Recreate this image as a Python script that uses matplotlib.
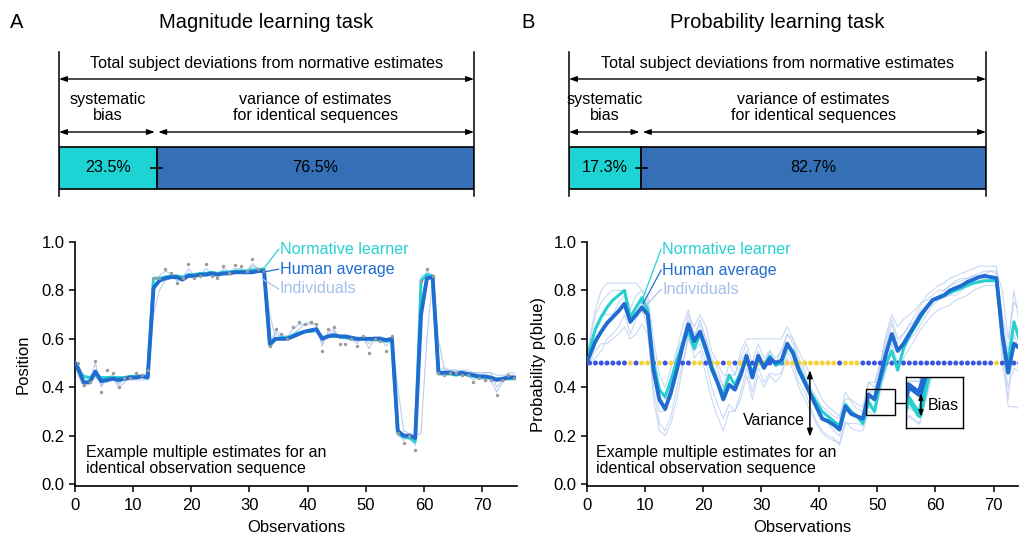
import numpy as np
import matplotlib
matplotlib.use("Agg")
import matplotlib.pyplot as plt
from matplotlib.patches import Rectangle

plt.rcParams['font.family'] = ['Liberation Sans', 'DejaVu Sans']

# ---------------- data ----------------
# top bars (percent of total deviation)
mag_bias_pct, mag_var_pct = 23.5, 76.5
prob_bias_pct, prob_var_pct = 17.3, 82.7

# Magnitude task: estimates (prior at 0, then after each observation at k+0.5)
mag_human = [0.50,
    0.48, 0.42, 0.42, 0.465, 0.425, 0.43, 0.435, 0.43, 0.435, 0.44,
    0.44, 0.445, 0.44, 0.81, 0.84, 0.85, 0.855, 0.855, 0.845, 0.86,
    0.86, 0.865, 0.865, 0.87, 0.865, 0.87, 0.87, 0.875, 0.875, 0.875,
    0.875, 0.88, 0.88, 0.58, 0.60, 0.60, 0.60, 0.61, 0.62, 0.63,
    0.635, 0.64, 0.60, 0.61, 0.615, 0.61, 0.61, 0.605, 0.60, 0.60,
    0.60, 0.60, 0.60, 0.595, 0.60, 0.22, 0.20, 0.20, 0.19, 0.70,
    0.85, 0.855, 0.46, 0.46, 0.46, 0.455, 0.46, 0.455, 0.45, 0.445,
    0.445, 0.44, 0.43, 0.435, 0.44, 0.44]
mag_normative = [0.50,
    0.47, 0.445, 0.44, 0.45, 0.44, 0.44, 0.44, 0.44, 0.44, 0.445,
    0.445, 0.445, 0.445, 0.85, 0.85, 0.855, 0.86, 0.86, 0.855, 0.865,
    0.865, 0.87, 0.87, 0.875, 0.87, 0.875, 0.875, 0.88, 0.88, 0.88,
    0.885, 0.885, 0.89, 0.57, 0.60, 0.605, 0.605, 0.615, 0.625, 0.63,
    0.63, 0.635, 0.605, 0.61, 0.61, 0.61, 0.605, 0.60, 0.60, 0.60,
    0.60, 0.595, 0.595, 0.59, 0.595, 0.21, 0.195, 0.19, 0.175, 0.84,
    0.865, 0.86, 0.455, 0.455, 0.455, 0.45, 0.455, 0.45, 0.445, 0.44,
    0.44, 0.44, 0.435, 0.435, 0.435, 0.435]
mag_ind_1 = [0.50,
    0.46, 0.41, 0.43, 0.50, 0.40, 0.44, 0.45, 0.41, 0.44, 0.44,
    0.45, 0.45, 0.46, 0.84, 0.86, 0.88, 0.87, 0.84, 0.85, 0.89,
    0.86, 0.86, 0.89, 0.87, 0.86, 0.89, 0.88, 0.89, 0.89, 0.88,
    0.91, 0.89, 0.88, 0.58, 0.63, 0.62, 0.61, 0.64, 0.66, 0.66,
    0.66, 0.66, 0.57, 0.63, 0.64, 0.60, 0.60, 0.60, 0.58, 0.61,
    0.56, 0.60, 0.60, 0.57, 0.60, 0.21, 0.18, 0.20, 0.16, 0.82,
    0.88, 0.86, 0.46, 0.45, 0.46, 0.46, 0.45, 0.45, 0.43, 0.44,
    0.43, 0.43, 0.38, 0.42, 0.44, 0.44]
mag_ind_2 = [0.50,
    0.49, 0.45, 0.42, 0.44, 0.42, 0.42, 0.43, 0.42, 0.43, 0.43,
    0.43, 0.43, 0.43, 0.70, 0.80, 0.84, 0.85, 0.85, 0.85, 0.86,
    0.86, 0.86, 0.87, 0.87, 0.86, 0.87, 0.87, 0.87, 0.87, 0.87,
    0.88, 0.88, 0.88, 0.70, 0.60, 0.60, 0.60, 0.61, 0.62, 0.63,
    0.63, 0.64, 0.61, 0.61, 0.62, 0.61, 0.61, 0.61, 0.60, 0.61,
    0.60, 0.60, 0.60, 0.60, 0.60, 0.40, 0.22, 0.21, 0.20, 0.21,
    0.60, 0.85, 0.60, 0.47, 0.47, 0.47, 0.46, 0.46, 0.46, 0.46,
    0.46, 0.46, 0.45, 0.45, 0.45, 0.45]
mag_ind_3 = [0.50,
    0.45, 0.40, 0.44, 0.46, 0.41, 0.43, 0.44, 0.40, 0.42, 0.44,
    0.45, 0.44, 0.45, 0.82, 0.84, 0.86, 0.86, 0.84, 0.84, 0.87,
    0.86, 0.86, 0.87, 0.86, 0.86, 0.88, 0.87, 0.88, 0.88, 0.88,
    0.90, 0.89, 0.89, 0.58, 0.62, 0.61, 0.60, 0.62, 0.64, 0.66,
    0.67, 0.66, 0.58, 0.62, 0.63, 0.61, 0.61, 0.60, 0.59, 0.61,
    0.58, 0.61, 0.61, 0.59, 0.60, 0.20, 0.19, 0.19, 0.17, 0.86,
    0.87, 0.86, 0.47, 0.48, 0.47, 0.47, 0.47, 0.47, 0.46, 0.46,
    0.46, 0.46, 0.40, 0.43, 0.46, 0.46]
# observed positions (grey dots), one per observation
mag_obs = [
    0.50, 0.41, 0.42, 0.51, 0.38, 0.47, 0.46, 0.40, 0.44, 0.44,
    0.46, 0.45, 0.47, 0.85, 0.85, 0.89, 0.87, 0.83, 0.85, 0.91,
    0.85, 0.86, 0.91, 0.86, 0.85, 0.90, 0.87, 0.905, 0.90, 0.88,
    0.93, 0.89, 0.88, 0.57, 0.64, 0.62, 0.60, 0.65, 0.67, 0.66,
    0.67, 0.66, 0.55, 0.64, 0.65, 0.58, 0.58, 0.60, 0.57, 0.61,
    0.54, 0.60, 0.59, 0.55, 0.61, 0.21, 0.17, 0.20, 0.14, 0.84,
    0.89, 0.86, 0.46, 0.45, 0.46, 0.46, 0.45, 0.45, 0.42, 0.44,
    0.43, 0.43, 0.37, 0.43, 0.45, 0.44]

# Probability task
prob_human = [0.50,
    0.53, 0.59, 0.63, 0.665, 0.69, 0.715, 0.745, 0.67, 0.70, 0.73,
    0.70, 0.47, 0.35, 0.31, 0.38, 0.47, 0.57, 0.66, 0.59, 0.63,
    0.56, 0.48, 0.42, 0.35, 0.41, 0.39, 0.45, 0.53, 0.44, 0.53,
    0.48, 0.52, 0.50, 0.51, 0.58, 0.54, 0.47, 0.42, 0.37, 0.32,
    0.27, 0.26, 0.245, 0.225, 0.32, 0.29, 0.28, 0.27, 0.37, 0.35,
    0.44, 0.54, 0.62, 0.55, 0.58, 0.62, 0.66, 0.70, 0.73, 0.76,
    0.77, 0.78, 0.80, 0.81, 0.82, 0.835, 0.845, 0.855, 0.86, 0.855,
    0.85, 0.62, 0.46, 0.58, 0.56]
prob_normative = [0.50,
    0.56, 0.64, 0.69, 0.73, 0.76, 0.78, 0.80, 0.69, 0.73, 0.77,
    0.72, 0.50, 0.39, 0.36, 0.43, 0.51, 0.58, 0.63, 0.56, 0.62,
    0.55, 0.47, 0.42, 0.37, 0.45, 0.41, 0.46, 0.52, 0.46, 0.52,
    0.49, 0.53, 0.49, 0.50, 0.57, 0.55, 0.48, 0.43, 0.38, 0.34,
    0.30, 0.28, 0.26, 0.24, 0.33, 0.30, 0.28, 0.25, 0.34, 0.30,
    0.42, 0.50, 0.55, 0.47, 0.56, 0.61, 0.65, 0.69, 0.73, 0.76,
    0.77, 0.78, 0.79, 0.80, 0.81, 0.82, 0.83, 0.835, 0.84, 0.84,
    0.84, 0.62, 0.50, 0.67, 0.59]
prob_ind_1 = [0.50,
    0.60, 0.72, 0.80, 0.83, 0.83, 0.83, 0.83, 0.83, 0.83, 0.80,
    0.75, 0.45, 0.30, 0.30, 0.40, 0.55, 0.65, 0.72, 0.60, 0.68,
    0.60, 0.50, 0.45, 0.40, 0.45, 0.40, 0.50, 0.55, 0.45, 0.55,
    0.50, 0.55, 0.50, 0.55, 0.62, 0.58, 0.50, 0.45, 0.38, 0.33,
    0.28, 0.25, 0.22, 0.20, 0.30, 0.30, 0.28, 0.28, 0.38, 0.38,
    0.48, 0.60, 0.68, 0.60, 0.62, 0.66, 0.70, 0.74, 0.78, 0.80,
    0.82, 0.83, 0.85, 0.86, 0.87, 0.88, 0.89, 0.90, 0.90, 0.90,
    0.90, 0.60, 0.32, 0.32, 0.31]
prob_ind_2 = [0.50,
    0.50, 0.55, 0.58, 0.58, 0.60, 0.62, 0.65, 0.60, 0.62, 0.66,
    0.62, 0.40, 0.25, 0.22, 0.28, 0.40, 0.50, 0.60, 0.55, 0.58,
    0.50, 0.40, 0.33, 0.27, 0.33, 0.30, 0.38, 0.48, 0.38, 0.48,
    0.42, 0.46, 0.45, 0.46, 0.52, 0.47, 0.40, 0.35, 0.30, 0.25,
    0.21, 0.19, 0.18, 0.17, 0.26, 0.23, 0.22, 0.22, 0.30, 0.28,
    0.38, 0.47, 0.55, 0.48, 0.52, 0.56, 0.60, 0.64, 0.67, 0.70,
    0.72, 0.73, 0.74, 0.76, 0.77, 0.78, 0.80, 0.81, 0.82, 0.82,
    0.82, 0.55, 0.40, 0.48, 0.46]
prob_ind_3 = [0.50,
    0.55, 0.65, 0.70, 0.70, 0.70, 0.75, 0.78, 0.70, 0.70, 0.75,
    0.70, 0.55, 0.40, 0.35, 0.35, 0.45, 0.60, 0.70, 0.65, 0.70,
    0.65, 0.55, 0.50, 0.45, 0.45, 0.45, 0.55, 0.60, 0.60, 0.60,
    0.60, 0.60, 0.60, 0.60, 0.65, 0.60, 0.55, 0.50, 0.45, 0.40,
    0.35, 0.32, 0.30, 0.28, 0.35, 0.35, 0.33, 0.32, 0.42, 0.42,
    0.50, 0.62, 0.70, 0.65, 0.68, 0.70, 0.72, 0.75, 0.76, 0.78,
    0.80, 0.80, 0.82, 0.84, 0.85, 0.85, 0.86, 0.87, 0.88, 0.88,
    0.88, 0.80, 0.60, 0.75, 0.72]
prob_ind_4 = [0.50,
    0.50, 0.52, 0.55, 0.60, 0.62, 0.65, 0.70, 0.62, 0.68, 0.72,
    0.65, 0.35, 0.22, 0.20, 0.25, 0.35, 0.48, 0.62, 0.52, 0.55,
    0.45, 0.35, 0.28, 0.22, 0.30, 0.30, 0.35, 0.45, 0.35, 0.45,
    0.40, 0.45, 0.42, 0.45, 0.55, 0.50, 0.42, 0.38, 0.32, 0.26,
    0.22, 0.20, 0.19, 0.16, 0.25, 0.25, 0.25, 0.24, 0.32, 0.30,
    0.40, 0.50, 0.58, 0.50, 0.55, 0.60, 0.62, 0.66, 0.70, 0.74,
    0.76, 0.77, 0.78, 0.78, 0.80, 0.82, 0.83, 0.84, 0.85, 0.86,
    0.86, 0.50, 0.35, 0.62, 0.55]
prob_ind_5 = [0.50,
    0.58, 0.70, 0.75, 0.78, 0.80, 0.80, 0.80, 0.72, 0.78, 0.80,
    0.78, 0.60, 0.45, 0.40, 0.48, 0.55, 0.60, 0.68, 0.62, 0.66,
    0.60, 0.52, 0.48, 0.40, 0.50, 0.45, 0.52, 0.58, 0.50, 0.58,
    0.52, 0.55, 0.52, 0.55, 0.62, 0.60, 0.52, 0.47, 0.40, 0.36,
    0.32, 0.30, 0.28, 0.27, 0.38, 0.34, 0.31, 0.30, 0.42, 0.40,
    0.50, 0.58, 0.66, 0.58, 0.62, 0.65, 0.68, 0.72, 0.74, 0.76,
    0.78, 0.80, 0.82, 0.83, 0.84, 0.85, 0.86, 0.86, 0.87, 0.88,
    0.87, 0.70, 0.55, 0.80, 0.65]
# observed colour of each draw (B = blue, Y = yellow)
prob_obs_colors = list(
    "BBBBBBBYBYYBYBYBBBYYBYYBYBYYBYYBBBY"
    "YYYYYYYYBYYY"
    "BBBBBBBBBBBBBBBBBBBBBBB"
    "YBBBB")

mag_obs_x = np.arange(len(mag_obs)) + 0.5
mag_est_x = np.concatenate([[0.0], mag_obs_x])
prob_obs_x = np.arange(len(prob_obs_colors)) + 0.5
prob_est_x = np.concatenate([[0.0], prob_obs_x])

# ---------------- style ----------------
C_NORM = '#27d0d0'
C_HUM = '#1f6dd0'
C_IND = '#a6c0ec'
C_BAR1 = '#1dd3d3'
C_BAR2 = '#3570b6'
C_DOT_B = '#3d55e0'
C_DOT_Y = '#f5d33c'

W, H = 1019, 535
fig = plt.figure(figsize=(W / 100, H / 100), dpi=100)


def px_axes(x0, y0, x1, y1):
    return fig.add_axes([x0 / W, 1 - y1 / H, (x1 - x0) / W, (y1 - y0) / H])


def bar_panel(x0, x1, bias, var):
    ax = px_axes(x0, 45, x1, 200)
    ax.set_xlim(0, 100)
    ax.set_ylim(200, 45)
    ax.axis('off')
    for xv in (0, 100):
        ax.plot([xv, xv], [52, 196], color='k', lw=1.1, clip_on=False)
    ap = dict(arrowstyle='<|-|>,head_length=0.45,head_width=0.16', color='k',
              lw=1.0, shrinkA=0, shrinkB=0)
    ax.annotate('', xy=(100, 79), xytext=(0, 79), arrowprops=ap)
    ax.text(50, 63, 'Total subject deviations from normative estimates',
            ha='center', va='center', fontsize=11.6)
    ax.annotate('', xy=(bias - 0.4, 132), xytext=(0, 132), arrowprops=ap)
    ax.annotate('', xy=(100, 132), xytext=(bias + 0.4, 132), arrowprops=ap)
    ax.text(bias / 2, 107.5, 'systematic\nbias', ha='center', va='center',
            fontsize=11.6, linespacing=1.15)
    ax.text((bias + 100) / 2, 107.5, 'variance of estimates\nfor identical sequences',
            ha='center', va='center', fontsize=11.6, linespacing=1.15)
    ax.barh(167.5, bias, height=42, left=0, color=C_BAR1, edgecolor='k', lw=1.2)
    ax.barh(167.5, var, height=42, left=bias, color=C_BAR2, edgecolor='k', lw=1.2)
    ax.plot([bias - 1.3, bias + 1.3], [167.5, 167.5], color='k', lw=1.2)
    ax.text(bias / 2, 167.5, f'{bias}%', ha='center', va='center', fontsize=11.6)
    ax.text(bias + var / 2, 167.5, f'{var}%', ha='center', va='center', fontsize=11.6)


bar_panel(59, 474, mag_bias_pct, mag_var_pct)
bar_panel(569, 986, prob_bias_pct, prob_var_pct)

fig.text(17 / W, 1 - 22 / H, 'A', fontsize=14.5, ha='center', va='center')
fig.text(266 / W, 1 - 22 / H, 'Magnitude learning task', fontsize=14.5, ha='center', va='center')
fig.text(528 / W, 1 - 22 / H, 'B', fontsize=14.5, ha='center', va='center')
fig.text(777 / W, 1 - 22 / H, 'Probability learning task', fontsize=14.5, ha='center', va='center')


def style_axes(ax, xmax):
    ax.set_xlim(0, xmax)
    ax.set_ylim(-0.008, 1.0)
    for s in ('top', 'right'):
        ax.spines[s].set_visible(False)
    for s in ('left', 'bottom'):
        ax.spines[s].set_linewidth(1.2)
    ax.set_xticks(range(0, 71, 10))
    ax.set_yticks([0, 0.2, 0.4, 0.6, 0.8, 1.0])
    ax.set_yticklabels([f'{v:.1f}' for v in [0, 0.2, 0.4, 0.6, 0.8, 1.0]])
    ax.tick_params(labelsize=12, length=4, width=1.1)
    ax.tick_params(axis='x', pad=5)
    ax.set_xlabel('Observations', fontsize=12, labelpad=5)


# ---------------- magnitude panel ----------------
axL = px_axes(75, 242, 517, 486)
style_axes(axL, 76)
for ind in (mag_ind_1, mag_ind_2, mag_ind_3):
    axL.plot(mag_est_x, ind, color=C_IND, lw=0.8, alpha=0.8, zorder=1)
axL.scatter(mag_obs_x, mag_obs, s=6, color='#9a9a9a', zorder=4, linewidths=0)
axL.plot(mag_est_x, mag_normative, color=C_NORM, lw=2.2, zorder=2)
axL.plot(mag_est_x, mag_human, color=C_HUM, lw=2.8, zorder=3)
axL.set_ylabel('Position', fontsize=12, labelpad=8)
for (x0, y0, y1, txt, c) in [(32.7, 0.898, 0.97, 'Normative learner', C_NORM),
                             (32.7, 0.877, 0.888, 'Human average', C_HUM),
                             (32.3, 0.846, 0.806, 'Individuals', C_IND)]:
    axL.plot([x0, 35.0], [y0, y1], color=c, lw=0.9, zorder=5)
    axL.text(35.2, y1, txt, color=c, fontsize=11.6, va='center', ha='left')
axL.text(1.9, 0.097, 'Example multiple estimates for an\nidentical observation sequence',
         fontsize=11.5, va='center', ha='left', linespacing=1.05)

# ---------------- probability panel ----------------
axR = px_axes(586.7, 242, 1018, 486)
style_axes(axR, 74.2)
prob_inds = (prob_ind_1, prob_ind_2, prob_ind_3, prob_ind_4, prob_ind_5)
for ind in prob_inds:
    axR.plot(prob_est_x, ind, color=C_IND, lw=0.8, alpha=0.6, zorder=1)
dot_cols = [C_DOT_B if c == 'B' else C_DOT_Y for c in prob_obs_colors]
axR.scatter(prob_obs_x, [0.5] * len(prob_obs_x), s=13, c=dot_cols, zorder=1.5, linewidths=0)
axR.plot(prob_est_x, prob_normative, color=C_NORM, lw=2.2, zorder=2)
axR.plot(prob_est_x, prob_human, color=C_HUM, lw=2.8, zorder=3)
axR.set_ylabel('Probability p(blue)', fontsize=12, labelpad=5)
for (x0, y0, y1, txt, c) in [(9.35, 0.748, 0.97, 'Normative learner', C_NORM),
                             (9.7, 0.745, 0.884, 'Human average', C_HUM),
                             (10.3, 0.74, 0.805, 'Individuals', C_IND)]:
    axR.plot([x0, 12.8], [y0, y1], color=c, lw=0.9, zorder=5)
    axR.text(13.0, y1, txt, color=c, fontsize=11.6, va='center', ha='left')
axR.text(1.6, 0.097, 'Example multiple estimates for an\nidentical observation sequence',
         fontsize=11.5, va='center', ha='left', linespacing=1.05)

# variance arrow
axR.annotate('', xy=(38.4, 0.195), xytext=(38.4, 0.471),
             arrowprops=dict(arrowstyle='<|-|>,head_length=0.45,head_width=0.16',
                             color='k', lw=1.1, shrinkA=0, shrinkB=0), zorder=6)
axR.text(37.6, 0.262, 'Variance', fontsize=11.5, ha='right', va='center', zorder=6)

# zoom box + inset
axR.add_patch(Rectangle((48.07, 0.284), 4.99, 0.107, fill=False, ec='k', lw=1.0, zorder=6))
axR.plot([53.06, 54.9], [0.336, 0.336], color='k', lw=1.0, zorder=6)
axins = axR.inset_axes([54.9, 0.23, 9.9, 0.213], transform=axR.transData)
for ind in prob_inds:
    axins.plot(prob_est_x, ind, color=C_IND, lw=1.2, alpha=0.6)
axins.plot(prob_est_x, prob_normative, color=C_NORM, lw=3.8)
axins.plot(prob_est_x, prob_human, color=C_HUM, lw=4.4)
axins.set_xlim(48.26, 53.47)
axins.set_ylim(0.27, 0.39)
axins.set_xticks([])
axins.set_yticks([])
for s in axins.spines.values():
    s.set_linewidth(1.0)
axins.annotate('', xy=(57.5, 0.278), xytext=(57.5, 0.375),
               xycoords=axR.transData, textcoords=axR.transData,
               arrowprops=dict(arrowstyle='<|-|>,head_length=0.35,head_width=0.13',
                               color='k', lw=1.1, shrinkA=0, shrinkB=0))
axins.text(58.6, 0.326, 'Bias', transform=axR.transData, fontsize=11.5,
           ha='left', va='center')

fig.savefig('out.png', dpi=100)
